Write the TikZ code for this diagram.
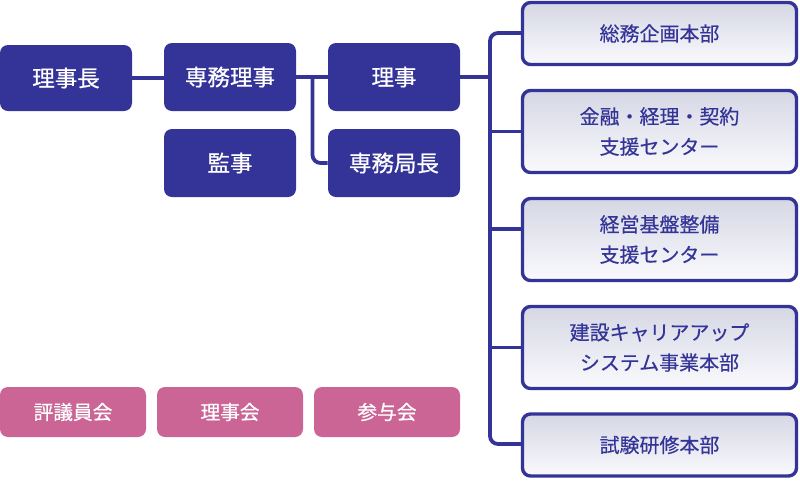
\documentclass[tikz,border=0pt]{standalone}
\usepackage{fontspec}
\setmainfont{Noto Sans CJK JP}
\newfontfamily\orgfont{Noto Sans CJK JP}[FakeBold=0.7]
\newfontfamily\divfont{Noto Sans CJK JP}[FakeBold=0.4]
\usepackage{xcolor}
\usepackage{tikz}
\usetikzlibrary{positioning}

\definecolor{orgblue}{RGB}{52,52,152}
\definecolor{orgpink}{RGB}{202,101,150}
\definecolor{orgtop}{RGB}{213,215,228}
\definecolor{orgbottom}{RGB}{250,250,253}

\tikzset{
    officer/.style={rectangle, rounded corners=0.2cm, fill=orgblue, text=white, minimum width=3.3cm, minimum height=1.7cm, font=\orgfont\fontsize{16}{19}\selectfont},
    council/.style={rectangle, rounded corners=0.2cm, fill=orgpink, text=white, minimum width=3.65cm, minimum height=1.25cm, font=\orgfont\fontsize{14}{16}\selectfont},
    division/.style={rectangle, rounded corners=0.2cm, draw=orgblue, line width=2.4pt, top color=orgtop, bottom color=orgbottom, text=orgblue, minimum width=6.85cm, minimum height=1.55cm, align=center, font=\divfont\fontsize{14.2}{21.5}\selectfont},
    link/.style={orgblue, line width=2.7pt}
}

\begin{document}
\begin{tikzpicture}
        \useasboundingbox (0,0) rectangle (20,-12);
        % officers
        \node[officer, minimum height=1.65cm] (chair) at (1.65,-1.95) {理事長};
        \node[officer] (senmu) at (5.75,-1.925) {専務理事};
        \node[officer] (riji) at (9.85,-1.925) {理事};
        \node[officer] (kanji) at (5.75,-4.075) {監事};
        \node[officer] (kyokucho) at (9.85,-4.075) {専務局長};
        % divisions
        \node[division] (soumu) at (16.4875,-0.8375) {総務企画本部};
        \node[division, minimum height=2.05cm] (kinyu) at (16.4875,-3.2875) {金融・経理・契約\\支援センター};
        \node[division, minimum height=2.05cm] (keiei) at (16.4875,-5.9875) {経営基盤整備\\支援センター};
        \node[division, minimum height=2.05cm] (career) at (16.4875,-8.6875) {建設キャリアアップ\\システム事業本部};
        \node[division] (shiken) at (16.4875,-11.125) {試験研修本部};
        % councils
        \node[council] (hyogiin) at (1.825,-10.3) {評議員会};
        \node[council] (rijikai) at (5.75,-10.3) {理事会};
        \node[council] (sanyo) at (9.675,-10.3) {参与会};

        \coordinate (J1) at (7.8125,-1.925);
        \coordinate (J2) at (12.25,-1.925);
        \draw[link] (chair.east) -- (chair.east -| senmu.west);
        \draw[link] (senmu.east) -- (riji.west);
        \draw[link, rounded corners=0.2cm] (J1) |- (kyokucho.west);
        \draw[link] (riji.east) -- (J2);
        \draw[link, rounded corners=0.2cm] ([yshift=0.0125cm]soumu.west) -| (J2) |- ([yshift=0.025cm]shiken.west);
        \draw[link] (J2 |- kinyu.west) -- (kinyu.west);
        \draw[link] ([yshift=0.26cm]keiei.west) -- ([yshift=0.26cm]keiei.west -| J2);
        \draw[link] (J2 |- career.west) -- (career.west);
    \end{tikzpicture}
\end{document}
